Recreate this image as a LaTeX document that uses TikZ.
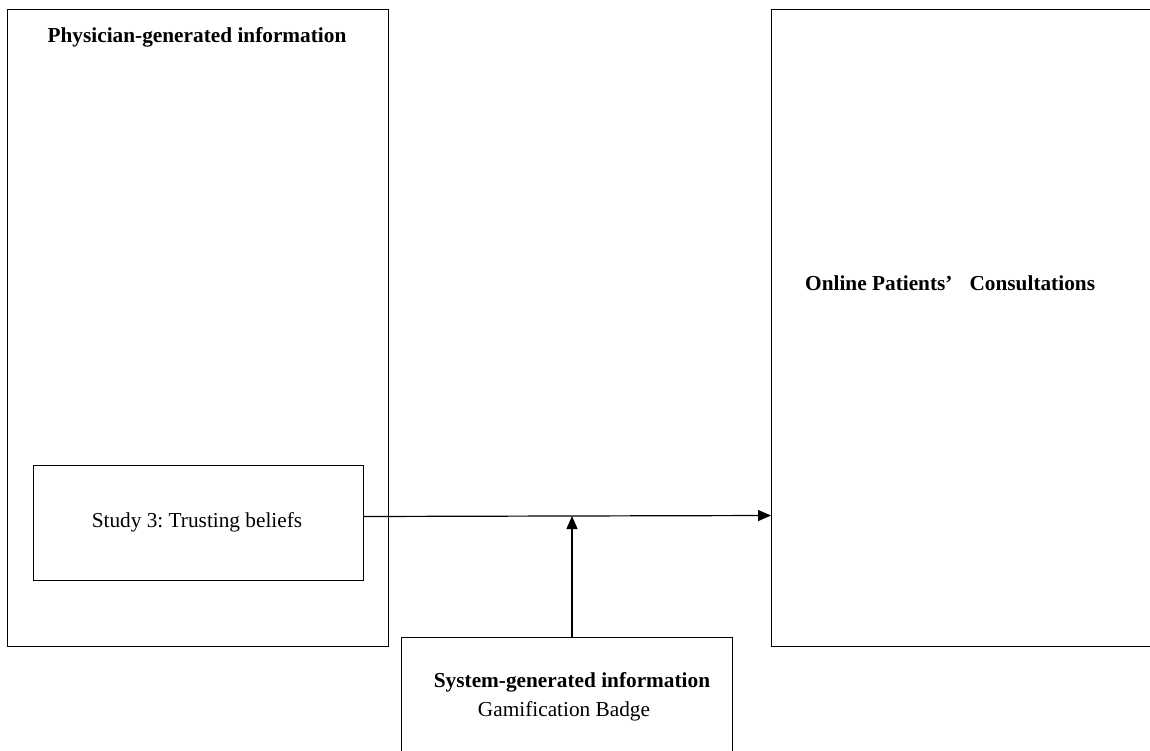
\documentclass[tikz,border=0pt]{standalone}
\usepackage{fontspec}
\setmainfont{Liberation Serif}
\frenchspacing
\usetikzlibrary{arrows.meta}
\begin{document}
\begin{tikzpicture}[x=1pt,y=-1pt,
  frame/.style={draw=black,line width=1.0pt},
  label/.style={inner sep=0pt,font=\fontsize{21.3}{25}\selectfont},
  boldlabel/.style={label,font=\fontsize{21.3}{25}\selectfont\bfseries},
  link/.style={line width=1.2pt,-{Triangle[length=13pt,width=11pt]}}]
  \useasboundingbox (0,0) rectangle (1150,751);
  % outer boxes
  \draw[frame] (7.5,9.5) rectangle (388,646.5);
  \draw[frame] (1160,9.5) -- (771,9.5) -- (771,646.5) -- (1160,646.5);
  \coordinate (rboxw) at (771,515.5);
  % inner box
  \node[frame,minimum width=330pt,minimum height=115pt,inner sep=0pt] (study) at (198,522.5) {};
  \node[label] (studytxt) at (197,522) {Study 3: Trusting beliefs};
  \coordinate (studyout) at (363.5,516.5);
  % bottom box
  \draw[frame] (401.5,760) -- (401.5,637) -- (732,637) -- (732,760);
  \coordinate (sysN) at (572,637);
  \coordinate (mid) at (572,516);
  % texts
  \node[boldlabel] (phys) at (197,37) {Physician-generated information};
  \node[boldlabel,anchor=west] (opc) at (805,283) {Online Patients’\hspace{0.8em}Consultations};
  \node[boldlabel] (sys) at (572,682) {System-generated information};
  \node[label] (badge) at (564,711) {Gamification Badge};
  % connectors
  \draw[link] (studyout) -- (rboxw);
  \draw[link] (sysN) -- (mid);
\end{tikzpicture}
\end{document}
